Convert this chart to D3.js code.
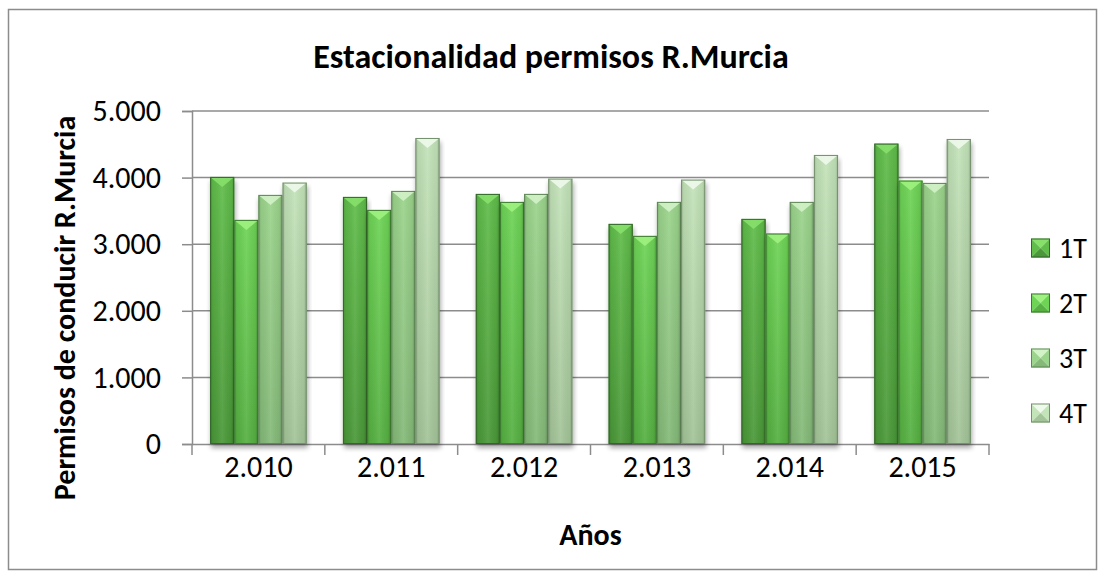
<!DOCTYPE html>
<html>
<head>
<meta charset="utf-8">
<script src="https://cdn.jsdelivr.net/npm/d3@7"></script>
<style>
  body { margin: 0; background: #fff; }
  svg text { font-family: Carlito, Calibri, Lato, sans-serif; fill: #000; }
</style>
</head>
<body>
<div id="chart"></div>
<script>
// data
var years = ["2.010", "2.011", "2.012", "2.013", "2.014", "2.015"]
var quarters = ["1T", "2T", "3T", "4T"]
var q1 = [4010, 3710, 3755, 3305, 3380, 4510]
var q2 = [3365, 3515, 3635, 3125, 3160, 3955]
var q3 = [3740, 3800, 3755, 3635, 3635, 3920]
var q4 = [3925, 4595, 3985, 3970, 4340, 4580]
var yTicks = [0, 1000, 2000, 3000, 4000, 5000]

var series = [q1, q2, q3, q4]

// colours per quarter: top bevel, body light, body dark, edge
var pal = [
  {top: "#86e06a", light: "#60bd4a", dark: "#4a9838", edge: "#33662a"},
  {top: "#9ef27f", light: "#6ed456", dark: "#56b042", edge: "#3d7a31"},
  {top: "#d2f2c8", light: "#9bd48c", dark: "#84b978", edge: "#5f8757"},
  {top: "#eefaeb", light: "#c3e3b9", dark: "#a3c498", edge: "#74906d"}
]

let width = 1106
    height = 580
    margin = {top: 111, right: 117, bottom: 136, left: 192}

var svg = d3.select("#chart")
  .append("svg")
    .attr("width", width)
    .attr("height", height)

var defs = svg.append("defs")

// soft shadow under bars
var f = defs.append("filter").attr("id", "shadow")
  .attr("x", "-20%").attr("y", "-5%").attr("width", "140%").attr("height", "115%")
f.append("feGaussianBlur").attr("in", "SourceAlpha").attr("stdDeviation", 2.5)
f.append("feOffset").attr("dx", 1).attr("dy", 4).attr("result", "o")
f.append("feComponentTransfer").append("feFuncA").attr("type", "linear").attr("slope", 0.35)
var fm = f.append("feMerge")
fm.append("feMergeNode")
fm.append("feMergeNode").attr("in", "SourceGraphic")

pal.forEach(function(p, i) {
  var g = defs.append("linearGradient").attr("id", "body" + i)
    .attr("x1", 0).attr("y1", 0).attr("x2", 0).attr("y2", 1)
  g.append("stop").attr("offset", "0%").attr("stop-color", p.light)
  g.append("stop").attr("offset", "100%").attr("stop-color", p.dark)
})
// side shading overlay
var side = defs.append("linearGradient").attr("id", "side")
  .attr("x1", 0).attr("y1", 0).attr("x2", 1).attr("y2", 0)
side.append("stop").attr("offset", "0%").attr("stop-color", "#000").attr("stop-opacity", 0.18)
side.append("stop").attr("offset", "12%").attr("stop-color", "#000").attr("stop-opacity", 0.05)
side.append("stop").attr("offset", "50%").attr("stop-color", "#fff").attr("stop-opacity", 0.08)
side.append("stop").attr("offset", "88%").attr("stop-color", "#000").attr("stop-opacity", 0.05)
side.append("stop").attr("offset", "100%").attr("stop-color", "#000").attr("stop-opacity", 0.2)

// outer border
svg.append("rect")
  .attr("x", 8.5).attr("y", 9.5)
  .attr("width", 1088).attr("height", 560)
  .attr("fill", "#fff").attr("stroke", "#8c8c8c").attr("stroke-width", 1.5)

var x = d3.scaleBand()
  .domain(years)
  .range([margin.left, width - margin.right])
  .paddingInner(1.5 / 5.5)
  .paddingOuter(0.75 / 5.5)

var xq = d3.scaleBand()
  .domain(quarters)
  .range([0, x.bandwidth()])

var y = d3.scaleLinear()
  .domain([0, 5000])
  .range([height - margin.bottom, margin.top])

var loc = d3.formatLocale({decimal: ",", thousands: ".", grouping: [3], currency: ["", "€"]})
var fmt = loc.format(",")

// gridlines
svg.append("g")
  .selectAll("line")
  .data(yTicks.slice(1))
  .enter().append("line")
    .attr("x1", margin.left).attr("x2", width - margin.right)
    .attr("y1", d => y(d)).attr("y2", d => y(d))
    .attr("stroke", "#8c8c8c").attr("stroke-width", 1.5)

// y axis
var yAxis = svg.append("g")
  .attr("transform", "translate(" + margin.left + ",0)")
  .call(d3.axisLeft(y).tickValues(yTicks).tickFormat(fmt).tickSize(10).tickPadding(21))
yAxis.select(".domain").attr("stroke", "#8c8c8c").attr("stroke-width", 1.5)
yAxis.selectAll(".tick line").attr("stroke", "#8c8c8c").attr("stroke-width", 1.5)
yAxis.selectAll(".tick text").style("font-size", "30px").attr("font-family", null)

// x axis
var xAxis = svg.append("g")
  .attr("transform", "translate(0," + (height - margin.bottom) + ")")
  .call(d3.axisBottom(x).tickSize(0).tickPadding(12))
xAxis.select(".domain").attr("stroke", "#8c8c8c").attr("stroke-width", 1.5)
xAxis.selectAll(".tick text").style("font-size", "30px").attr("font-family", null)

// category separators
var bounds = years.map(d => x(d) - x.step() * x.paddingInner() / 2)
bounds.push(width - margin.right)
svg.append("g").selectAll("line")
  .data(bounds)
  .enter().append("line")
    .attr("x1", d => d).attr("x2", d => d)
    .attr("y1", height - margin.bottom).attr("y2", height - margin.bottom + 11)
    .attr("stroke", "#8c8c8c").attr("stroke-width", 1.5)

// bars
var bars = []
years.forEach(function(yr, i) {
  series.forEach(function(s, j) {
    bars.push({year: yr, q: j, value: s[i]})
  })
})

var bw = xq.bandwidth()
var g = svg.append("g").selectAll("g")
  .data(bars)
  .enter().append("g")
    .attr("transform", d => "translate(" + (x(d.year) + xq(quarters[d.q])) + "," + y(d.value) + ")")
    .attr("filter", "url(#shadow)")

g.append("rect")
  .attr("width", bw)
  .attr("height", d => y(0) - y(d.value))
  .attr("fill", d => "url(#body" + d.q + ")")

g.append("rect")
  .attr("width", bw)
  .attr("height", d => y(0) - y(d.value))
  .attr("fill", "url(#side)")

g.append("path")
  .attr("d", "M0,0 L" + bw + ",0 L" + (bw / 2) + ",10 Z")
  .attr("fill", d => pal[d.q].top)
  .attr("opacity", 0.9)

g.append("rect")
  .attr("x", 0.5).attr("y", 0.5)
  .attr("width", bw - 1)
  .attr("height", d => y(0) - y(d.value) - 1)
  .attr("fill", "none")
  .attr("stroke", d => pal[d.q].edge)
  .attr("stroke-width", 1)

// legend
var leg = svg.append("g").selectAll("g")
  .data(quarters)
  .enter().append("g")
    .attr("transform", (d, i) => "translate(1031," + (238.5 + i * 55) + ")")

var s = 19
leg.append("path").attr("d", "M0,0 L" + s + ",0 L" + s / 2 + "," + s / 2 + " Z").attr("fill", (d, i) => pal[i].top)
leg.append("path").attr("d", "M0,0 L" + s / 2 + "," + s / 2 + " L0," + s + " Z").attr("fill", (d, i) => pal[i].light)
leg.append("path").attr("d", "M" + s + ",0 L" + s / 2 + "," + s / 2 + " L" + s + "," + s + " Z").attr("fill", (d, i) => pal[i].light)
leg.append("path").attr("d", "M0," + s + " L" + s / 2 + "," + s / 2 + " L" + s + "," + s + " Z").attr("fill", (d, i) => pal[i].dark)
leg.append("rect").attr("x", 0.5).attr("y", 0.5).attr("width", s - 1).attr("height", s - 1)
  .attr("fill", "none").attr("stroke", (d, i) => pal[i].edge).attr("stroke-width", 1)
leg.append("text")
  .attr("x", 28).attr("y", s / 2).attr("dy", "0.35em")
  .style("font-size", "28px")
  .text(d => d)

// titles
svg.append("text")
  .attr("x", 551).attr("y", 68)
  .attr("text-anchor", "middle")
  .style("font-size", "34px").style("font-weight", "bold")
  .text("Estacionalidad permisos R.Murcia")

svg.append("text")
  .attr("x", (margin.left + width - margin.right) / 2).attr("y", 545)
  .attr("text-anchor", "middle")
  .style("font-size", "30px").style("font-weight", "bold")
  .text("Años")

svg.append("text")
  .attr("transform", "translate(75,308) rotate(-90)")
  .attr("text-anchor", "middle")
  .style("font-size", "30px").style("font-weight", "bold")
  .text("Permisos de conducir R.Murcia")
</script>
</body>
</html>
